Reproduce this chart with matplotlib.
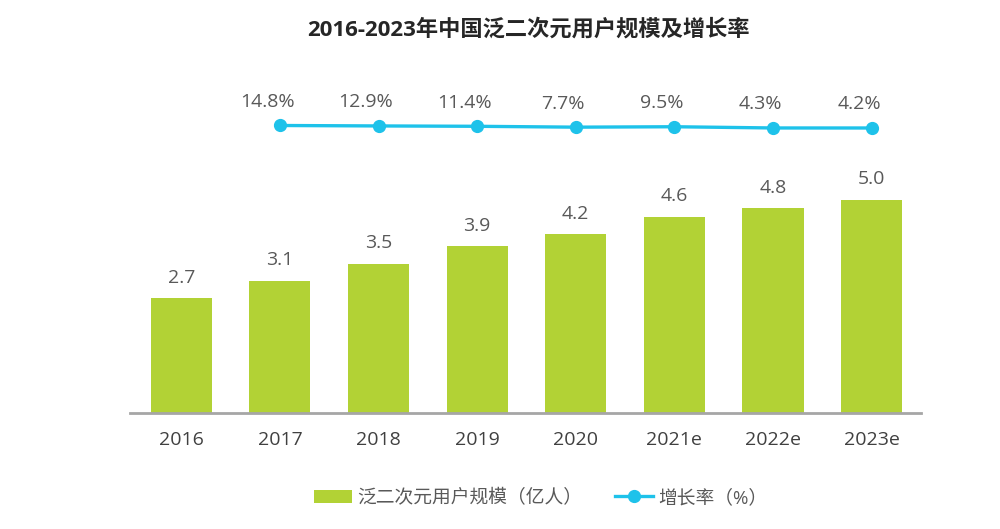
import matplotlib
matplotlib.use("Agg")
import matplotlib.pyplot as plt
from matplotlib.patches import Patch
from matplotlib.lines import Line2D

plt.rcParams['font.family'] = ['Open Sans', 'Noto Sans CJK SC', 'DejaVu Sans']

title = "2016-2023年中国泛二次元用户规模及增长率"
categories = ["2016", "2017", "2018", "2019", "2020", "2021e", "2022e", "2023e"]
users = [2.7, 3.1, 3.5, 3.9, 4.2, 4.6, 4.8, 5.0]
growth_categories = ["2017", "2018", "2019", "2020", "2021e", "2022e", "2023e"]
growth = [14.8, 12.9, 11.4, 7.7, 9.5, 4.3, 4.2]
bar_label = "泛二次元用户规模（亿人）"
line_label = "增长率（%）"

GREEN = "#b2d235"
CYAN = "#1ec2ea"
TEXT = "#595959"

fig = plt.figure(figsize=(10, 5.29), dpi=100)
H = 529
ax_left, ax_right = 130 / 1000, 921 / 1000
ax_bottom = (H - 413) / H
ax_top = (H - 71.4) / H
ax = fig.add_axes([ax_left, ax_bottom, ax_right - ax_left, ax_top - ax_bottom])

x = list(range(len(categories)))
ax.bar(x, users, width=0.62, color=GREEN, zorder=2)
for xi, v in zip(x, users):
    ax.annotate(f"{v:.1f}", (xi, v), xytext=(0, 14.5), textcoords="offset points",
                ha="center", va="center", fontsize=14, color=TEXT)

ax.set_xlim(-0.52, 7.5)
ax.set_ylim(0, 8)
ax.set_xticks(x)
ax.set_xticklabels(categories, fontsize=14, color="#404040")
ax.tick_params(axis="x", length=0, pad=13)
ax.set_yticks([])
for s in ["top", "right", "left"]:
    ax.spines[s].set_visible(False)
ax.spines["bottom"].set_color("#a6a6a6")
ax.spines["bottom"].set_linewidth(2)

ax2 = ax.twinx()
gx = [categories.index(c) for c in growth_categories]
ax2.plot(gx, growth, color=CYAN, linewidth=2.4, marker="o", markersize=8.5, zorder=3)
ax2.set_ylim(-1204.5, 244.2)
ax2.set_yticks([])
for s in ["top", "right", "left", "bottom"]:
    ax2.spines[s].set_visible(False)
for xi, v in zip(gx, growth):
    ax2.annotate(f"{v:.1f}%", (xi, v), xytext=(-9, 17), textcoords="offset points",
                 ha="center", va="center", fontsize=14, color=TEXT)

fig.text(528 / 1000, (H - 30) / H, title, ha="center", va="center",
         fontsize=16, fontweight="bold", color="#262626")

handles = [Patch(facecolor=GREEN, edgecolor="none", label=bar_label),
           Line2D([0], [0], color=CYAN, linewidth=2.4, marker="o", markersize=8.5, label=line_label)]
fig.legend(handles=handles, loc="center", bbox_to_anchor=(541 / 1000, 31 / H), ncol=2,
           frameon=False, fontsize=13.5, handlelength=2.0, handleheight=0.7,
           columnspacing=1.75, handletextpad=0.3, labelcolor=TEXT)

fig.savefig("out.png", dpi=100)
